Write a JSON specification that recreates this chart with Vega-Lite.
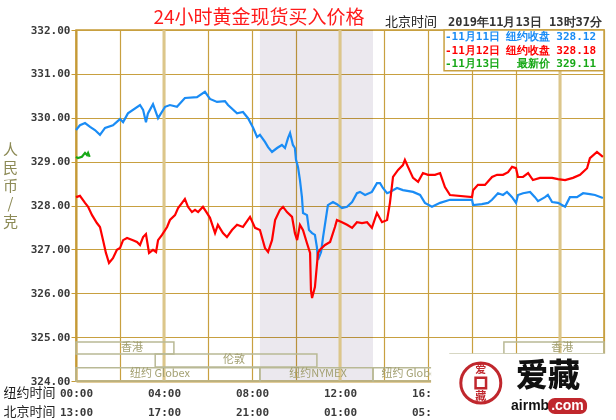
{
 "$schema": "https://vega.github.io/schema/vega-lite/v6.json",
 "width": 528,
 "height": 351,
 "autosize": {"type": "none"},
 "padding": {"left": 76, "top": 30, "right": 12, "bottom": 39},
 "background": "white",
 "config": {"view": {"stroke": "#c59a36", "strokeWidth": 1.5}},
 "data": {"values": [{}]},
 "datasets": {
  "band": [{"session": "COMEX", "start": 8.36, "end": 13.5}],
  "highlight": [{"t": 4}, {"t": 12}, {"t": 22}],
  "sessions": [
   {"name": "香港", "start": 0, "end": 4.45, "lo": 324.615, "hi": 324.89, "lt": 2.55},
   {"name": "香港", "start": 19.45, "end": 24, "lo": 324.615, "hi": 324.89, "lt": 22.1},
   {"name": "伦敦", "start": 3.6, "end": 10.95, "lo": 324.32, "hi": 324.615, "lt": 7.18},
   {"name": "伦敦", "start": 17.0, "end": 24, "lo": 324.32, "hi": 324.615, "lt": null},
   {"name": "纽约 Globex", "start": 0, "end": 8.36, "lo": 324.0, "hi": 324.3, "lt": 3.82},
   {"name": "纽约NYMEX", "start": 8.36, "end": 13.5, "lo": 324.0, "hi": 324.3, "lt": 11.0},
   {"name": "纽约 Globex", "start": 13.5, "end": 24, "lo": 324.0, "hi": 324.3, "lt": 15.25}
  ],
  "prices": [
   {"s":"11月11日","t":0,"p":329.72},{"s":"11月11日","t":0.18,"p":329.83},{"s":"11月11日","t":0.41,"p":329.88},{"s":"11月11日","t":0.64,"p":329.79},{"s":"11月11日","t":0.86,"p":329.72},{"s":"11月11日","t":1.09,"p":329.61},{"s":"11月11日","t":1.32,"p":329.77},{"s":"11月11日","t":1.68,"p":329.83},{"s":"11月11日","t":2.0,"p":329.97},{"s":"11月11日","t":2.14,"p":329.9},{"s":"11月11日","t":2.36,"p":330.1},{"s":"11月11日","t":2.91,"p":330.29},{"s":"11月11日","t":3.05,"p":330.18},{"s":"11月11日","t":3.18,"p":329.9},{"s":"11月11日","t":3.27,"p":330.1},{"s":"11月11日","t":3.5,"p":330.31},{"s":"11月11日","t":3.73,"p":329.99},{"s":"11月11日","t":4.05,"p":330.25},{"s":"11月11日","t":4.27,"p":330.29},{"s":"11月11日","t":4.59,"p":330.25},{"s":"11月11日","t":4.95,"p":330.45},{"s":"11月11日","t":5.5,"p":330.47},{"s":"11月11日","t":5.86,"p":330.59},{"s":"11月11日","t":6.09,"p":330.43},{"s":"11月11日","t":6.41,"p":330.36},{"s":"11月11日","t":6.77,"p":330.38},{"s":"11月11日","t":6.91,"p":330.29},{"s":"11月11日","t":7.32,"p":330.1},{"s":"11月11日","t":7.59,"p":330.13},{"s":"11月11日","t":7.82,"p":329.99},{"s":"11月11日","t":8.05,"p":329.77},{"s":"11月11日","t":8.23,"p":329.56},{"s":"11月11日","t":8.36,"p":329.61},{"s":"11月11日","t":8.59,"p":329.45},{"s":"11月11日","t":8.73,"p":329.33},{"s":"11月11日","t":8.91,"p":329.22},{"s":"11月11日","t":9.14,"p":329.31},{"s":"11月11日","t":9.36,"p":329.38},{"s":"11月11日","t":9.5,"p":329.31},{"s":"11月11日","t":9.64,"p":329.54},{"s":"11月11日","t":9.73,"p":329.65},{"s":"11月11日","t":9.86,"p":329.38},{"s":"11月11日","t":9.95,"p":329.31},{"s":"11月11日","t":10.0,"p":329.04},{"s":"11月11日","t":10.09,"p":328.88},{"s":"11月11日","t":10.18,"p":328.58},{"s":"11月11日","t":10.27,"p":328.19},{"s":"11月11日","t":10.32,"p":327.83},{"s":"11月11日","t":10.5,"p":327.78},{"s":"11月11日","t":10.59,"p":327.44},{"s":"11月11日","t":10.73,"p":327.37},{"s":"11月11日","t":10.86,"p":327.33},{"s":"11月11日","t":10.95,"p":327.05},{"s":"11月11日","t":11.0,"p":326.76},{"s":"11月11日","t":11.14,"p":326.94},{"s":"11月11日","t":11.23,"p":327.28},{"s":"11月11日","t":11.45,"p":328.01},{"s":"11月11日","t":11.68,"p":328.08},{"s":"11月11日","t":11.86,"p":328.03},{"s":"11月11日","t":12.09,"p":327.94},{"s":"11月11日","t":12.32,"p":327.97},{"s":"11月11日","t":12.55,"p":328.08},{"s":"11月11日","t":12.77,"p":328.28},{"s":"11月11日","t":12.91,"p":328.31},{"s":"11月11日","t":13.14,"p":328.24},{"s":"11月11日","t":13.45,"p":328.31},{"s":"11月11日","t":13.68,"p":328.51},{"s":"11月11日","t":13.82,"p":328.51},{"s":"11月11日","t":13.95,"p":328.4},{"s":"11月11日","t":14.14,"p":328.28},{"s":"11月11日","t":14.27,"p":328.31},{"s":"11月11日","t":14.59,"p":328.4},{"s":"11月11日","t":14.86,"p":328.35},{"s":"11月11日","t":15.32,"p":328.31},{"s":"11月11日","t":15.64,"p":328.24},{"s":"11月11日","t":15.86,"p":328.06},{"s":"11月11日","t":16.18,"p":327.97},{"s":"11月11日","t":16.55,"p":328.06},{"s":"11月11日","t":17.0,"p":328.13},{"s":"11月11日","t":18.0,"p":328.13},{"s":"11月11日","t":18.05,"p":328.01},{"s":"11月11日","t":18.45,"p":328.03},{"s":"11月11日","t":18.73,"p":328.06},{"s":"11月11日","t":18.91,"p":328.13},{"s":"11月11日","t":19.18,"p":328.28},{"s":"11月11日","t":19.41,"p":328.24},{"s":"11月11日","t":19.59,"p":328.31},{"s":"11月11日","t":19.82,"p":328.19},{"s":"11月11日","t":20.0,"p":328.06},{"s":"11月11日","t":20.09,"p":328.24},{"s":"11月11日","t":20.32,"p":328.28},{"s":"11月11日","t":20.64,"p":328.31},{"s":"11月11日","t":20.86,"p":328.19},{"s":"11月11日","t":21.0,"p":328.1},{"s":"11月11日","t":21.32,"p":328.19},{"s":"11月11日","t":21.45,"p":328.24},{"s":"11月11日","t":21.64,"p":328.08},{"s":"11月11日","t":21.91,"p":328.06},{"s":"11月11日","t":22.23,"p":327.97},{"s":"11月11日","t":22.45,"p":328.19},{"s":"11月11日","t":22.77,"p":328.19},{"s":"11月11日","t":23.05,"p":328.28},{"s":"11月11日","t":23.36,"p":328.26},{"s":"11月11日","t":23.59,"p":328.24},{"s":"11月11日","t":23.95,"p":328.17},
   {"s":"11月12日","t":0,"p":328.19},{"s":"11月12日","t":0.18,"p":328.22},{"s":"11月12日","t":0.41,"p":328.06},{"s":"11月12日","t":0.55,"p":327.97},{"s":"11月12日","t":0.73,"p":327.78},{"s":"11月12日","t":0.95,"p":327.6},{"s":"11月12日","t":1.09,"p":327.51},{"s":"11月12日","t":1.23,"p":327.21},{"s":"11月12日","t":1.36,"p":326.92},{"s":"11月12日","t":1.5,"p":326.69},{"s":"11月12日","t":1.68,"p":326.8},{"s":"11月12日","t":1.86,"p":326.99},{"s":"11月12日","t":2.0,"p":327.03},{"s":"11月12日","t":2.14,"p":327.21},{"s":"11月12日","t":2.32,"p":327.26},{"s":"11月12日","t":2.59,"p":327.21},{"s":"11月12日","t":2.77,"p":327.17},{"s":"11月12日","t":2.91,"p":327.1},{"s":"11月12日","t":3.05,"p":327.28},{"s":"11月12日","t":3.18,"p":327.35},{"s":"11月12日","t":3.32,"p":326.92},{"s":"11月12日","t":3.5,"p":326.99},{"s":"11月12日","t":3.64,"p":326.94},{"s":"11月12日","t":3.73,"p":327.21},{"s":"11月12日","t":3.91,"p":327.33},{"s":"11月12日","t":4.14,"p":327.51},{"s":"11月12日","t":4.27,"p":327.67},{"s":"11月12日","t":4.5,"p":327.78},{"s":"11月12日","t":4.64,"p":327.94},{"s":"11月12日","t":4.82,"p":328.06},{"s":"11月12日","t":4.95,"p":328.15},{"s":"11月12日","t":5.09,"p":327.97},{"s":"11月12日","t":5.27,"p":327.85},{"s":"11月12日","t":5.41,"p":327.9},{"s":"11月12日","t":5.55,"p":327.85},{"s":"11月12日","t":5.77,"p":327.97},{"s":"11月12日","t":5.95,"p":327.83},{"s":"11月12日","t":6.09,"p":327.72},{"s":"11月12日","t":6.32,"p":327.37},{"s":"11月12日","t":6.45,"p":327.56},{"s":"11月12日","t":6.68,"p":327.37},{"s":"11月12日","t":6.86,"p":327.28},{"s":"11月12日","t":7.09,"p":327.44},{"s":"11月12日","t":7.32,"p":327.56},{"s":"11月12日","t":7.59,"p":327.51},{"s":"11月12日","t":7.91,"p":327.74},{"s":"11月12日","t":8.14,"p":327.49},{"s":"11月12日","t":8.36,"p":327.44},{"s":"11月12日","t":8.59,"p":327.03},{"s":"11月12日","t":8.73,"p":326.94},{"s":"11月12日","t":8.91,"p":327.21},{"s":"11月12日","t":9.05,"p":327.67},{"s":"11月12日","t":9.27,"p":327.9},{"s":"11月12日","t":9.41,"p":327.97},{"s":"11月12日","t":9.59,"p":327.85},{"s":"11月12日","t":9.82,"p":327.74},{"s":"11月12日","t":9.95,"p":327.37},{"s":"11月12日","t":10.05,"p":327.21},{"s":"11月12日","t":10.18,"p":327.56},{"s":"11月12日","t":10.32,"p":327.44},{"s":"11月12日","t":10.5,"p":327.14},{"s":"11月12日","t":10.64,"p":326.92},{"s":"11月12日","t":10.68,"p":326.07},{"s":"11月12日","t":10.73,"p":325.89},{"s":"11月12日","t":10.86,"p":326.14},{"s":"11月12日","t":11.0,"p":326.92},{"s":"11月12日","t":11.09,"p":326.99},{"s":"11月12日","t":11.32,"p":327.1},{"s":"11月12日","t":11.55,"p":327.17},{"s":"11月12日","t":11.77,"p":327.51},{"s":"11月12日","t":11.86,"p":327.67},{"s":"11月12日","t":12.09,"p":327.62},{"s":"11月12日","t":12.32,"p":327.56},{"s":"11月12日","t":12.55,"p":327.49},{"s":"11月12日","t":12.77,"p":327.62},{"s":"11月12日","t":13.0,"p":327.6},{"s":"11月12日","t":13.23,"p":327.62},{"s":"11月12日","t":13.45,"p":327.49},{"s":"11月12日","t":13.68,"p":327.83},{"s":"11月12日","t":13.91,"p":327.62},{"s":"11月12日","t":14.14,"p":327.67},{"s":"11月12日","t":14.27,"p":328.06},{"s":"11月12日","t":14.41,"p":328.65},{"s":"11月12日","t":14.64,"p":328.81},{"s":"11月12日","t":14.86,"p":328.92},{"s":"11月12日","t":14.95,"p":329.04},{"s":"11月12日","t":15.09,"p":328.88},{"s":"11月12日","t":15.32,"p":328.63},{"s":"11月12日","t":15.55,"p":328.54},{"s":"11月12日","t":15.77,"p":328.74},{"s":"11月12日","t":16.0,"p":328.7},{"s":"11月12日","t":16.32,"p":328.7},{"s":"11月12日","t":16.55,"p":328.74},{"s":"11月12日","t":16.77,"p":328.42},{"s":"11月12日","t":17.0,"p":328.24},{"s":"11月12日","t":18.0,"p":328.19},{"s":"11月12日","t":18.05,"p":328.35},{"s":"11月12日","t":18.27,"p":328.47},{"s":"11月12日","t":18.59,"p":328.47},{"s":"11月12日","t":18.91,"p":328.65},{"s":"11月12日","t":19.14,"p":328.7},{"s":"11月12日","t":19.41,"p":328.7},{"s":"11月12日","t":19.64,"p":328.76},{"s":"11月12日","t":19.82,"p":328.88},{"s":"11月12日","t":20.0,"p":328.85},{"s":"11月12日","t":20.09,"p":328.65},{"s":"11月12日","t":20.32,"p":328.65},{"s":"11月12日","t":20.55,"p":328.74},{"s":"11月12日","t":20.77,"p":328.58},{"s":"11月12日","t":21.09,"p":328.63},{"s":"11月12日","t":21.32,"p":328.63},{"s":"11月12日","t":21.64,"p":328.63},{"s":"11月12日","t":21.91,"p":328.6},{"s":"11月12日","t":22.23,"p":328.58},{"s":"11月12日","t":22.59,"p":328.63},{"s":"11月12日","t":22.91,"p":328.7},{"s":"11月12日","t":23.23,"p":328.85},{"s":"11月12日","t":23.36,"p":329.08},{"s":"11月12日","t":23.68,"p":329.22},{"s":"11月12日","t":23.95,"p":329.11},
   {"s":"11月13日","t":0,"p":329.11},{"s":"11月13日","t":0.09,"p":329.08},{"s":"11月13日","t":0.27,"p":329.11},{"s":"11月13日","t":0.41,"p":329.2},{"s":"11月13日","t":0.5,"p":329.15},{"s":"11月13日","t":0.55,"p":329.2},{"s":"11月13日","t":0.62,"p":329.11}
  ]
 },
 "layer": [
  {
   "data": {"name": "band"},
   "mark": {"type": "rect", "fill": "#ebe8ee", "blend": "multiply"},
   "encoding": {
    "x": {"field": "start", "type": "quantitative", "scale": {"domain": [0, 24], "nice": false, "zero": false}},
    "x2": {"field": "end"},
    "y": {"datum": 324, "type": "quantitative", "scale": {"domain": [324, 332], "nice": false, "zero": false}},
    "y2": {"datum": 332}
   }
  },
  {
   "data": {"name": "highlight"},
   "mark": {"type": "rule", "color": "#dcc68a", "strokeWidth": 3},
   "encoding": {"x": {"field": "t", "type": "quantitative"}, "y": {"datum": 324, "type": "quantitative"}, "y2": {"datum": 332}}
  },
  {
   "data": {"name": "sessions"},
   "mark": {"type": "rect", "fillOpacity": 0, "stroke": "#b9b995", "strokeWidth": 1.5},
   "encoding": {"x": {"field": "start", "type": "quantitative"}, "x2": {"field": "end"}, "y": {"field": "lo", "type": "quantitative"}, "y2": {"field": "hi"}}
  },
  {
   "data": {"name": "sessions"},
   "transform": [{"filter": "datum.lt != null"}, {"calculate": "(datum.lo + datum.hi) / 2", "as": "ym"}],
   "mark": {"type": "text", "color": "#a3a072", "fontSize": 11, "font": "Noto Sans CJK SC", "baseline": "middle"},
   "encoding": {"x": {"field": "lt", "type": "quantitative"}, "y": {"field": "ym", "type": "quantitative"}, "text": {"field": "name"}}
  },
  {
   "data": {"name": "prices"},
   "mark": {"type": "line", "strokeWidth": 2.2},
   "encoding": {
    "x": {"field": "t", "type": "quantitative", "scale": {"domain": [0, 24], "nice": false, "zero": false},
     "axis": {"values": [0,2,4,6,8,10,12,14,16,18,20,22,24],
      "labelExpr": "(datum.value % 4 == 0 && datum.value <= 16) ? [(datum.value < 10 ? '0' : '') + datum.value + ':00', (((datum.value + 13) % 24) < 10 ? '0' : '') + ((datum.value + 13) % 24) + ':00'] : ''",
      "title": ["纽约时间", "北京时间"], "titleX": -73, "titleY": 5, "titleAlign": "left", "titleBaseline": "top", "titleAngle": 0, "titleLineHeight": 19, "titleFontSize": 13, "titleFont": "Noto Sans CJK SC", "titleFontWeight": "normal", "titleColor": "#222222",
      "labelFont": "DejaVu Sans Mono", "labelFontWeight": "bold", "labelFontSize": 11, "labelColor": "#3a3a3a", "labelLineHeight": 19, "labelBaseline": "top", "labelPadding": 6, "labelAlign": "center",
      "ticks": false, "tickSize": 0, "labelOverlap": false, "labelBound": false, "labelFlush": false,
      "grid": true, "gridColor": "#c8a040", "gridWidth": 1.2, "domainColor": "#c59a36", "domainWidth": 2}},
    "y": {"field": "p", "type": "quantitative", "scale": {"domain": [324, 332], "nice": false, "zero": false},
     "axis": {"values": [324,325,326,327,328,329,330,331,332], "format": ".2f",
      "title": ["人", "民", "币", "/", "克"], "titleAngle": 0, "titleX": -66, "titleY": 112, "titleAlign": "center", "titleBaseline": "top", "titleLineHeight": 18, "titleFontSize": 15, "titleFont": "Noto Sans CJK SC", "titleFontWeight": "normal", "titleColor": "#8c8a55",
      "labelFont": "DejaVu Sans Mono", "labelFontWeight": "bold", "labelFontSize": 11, "labelColor": "#3a3a3a", "labelPadding": 1,
      "tickSize": 5, "tickColor": "#c59a36", "grid": true, "gridColor": "#c8a040", "gridWidth": 1.2, "domainColor": "#c59a36", "domainWidth": 2}},
    "color": {"field": "s", "type": "nominal", "scale": {"domain": ["11月11日", "11月12日", "11月13日"], "range": ["#1a8cf5", "#ff0000", "#17a817"]}, "legend": null}
   }
  },
  {
   "mark": {"type": "rect", "fill": "white", "stroke": "#c8a040", "strokeWidth": 1.5},
   "encoding": {"x": {"datum": 16.73, "type": "quantitative"}, "x2": {"datum": 24}, "y": {"datum": 331.07, "type": "quantitative"}, "y2": {"datum": 332}}
  },
  {
   "data": {"values": [{"s": "11月11日", "d": "-11月11日", "n": "纽约收盘 328.12"}]},
   "layer": [
    {"mark": {"type": "text", "align": "left", "baseline": "middle", "font": "DejaVu Sans Mono", "fontWeight": "bold", "fontSize": 11},
     "encoding": {"x": {"datum": 16.77, "type": "quantitative"}, "y": {"datum": 331.84, "type": "quantitative"}, "text": {"field": "d"}, "color": {"field": "s", "type": "nominal", "legend": null}}},
    {"mark": {"type": "text", "align": "right", "baseline": "middle", "font": "DejaVu Sans Mono", "fontWeight": "bold", "fontSize": 11},
     "encoding": {"x": {"datum": 23.64, "type": "quantitative"}, "y": {"datum": 331.84, "type": "quantitative"}, "text": {"field": "n"}, "color": {"field": "s", "type": "nominal", "legend": null}}}
   ]
  },
  {
   "data": {"values": [{"s": "11月12日", "d": "-11月12日", "n": "纽约收盘 328.18"}]},
   "layer": [
    {"mark": {"type": "text", "align": "left", "baseline": "middle", "font": "DejaVu Sans Mono", "fontWeight": "bold", "fontSize": 11},
     "encoding": {"x": {"datum": 16.77, "type": "quantitative"}, "y": {"datum": 331.52, "type": "quantitative"}, "text": {"field": "d"}, "color": {"field": "s", "type": "nominal", "legend": null}}},
    {"mark": {"type": "text", "align": "right", "baseline": "middle", "font": "DejaVu Sans Mono", "fontWeight": "bold", "fontSize": 11},
     "encoding": {"x": {"datum": 23.64, "type": "quantitative"}, "y": {"datum": 331.52, "type": "quantitative"}, "text": {"field": "n"}, "color": {"field": "s", "type": "nominal", "legend": null}}}
   ]
  },
  {
   "data": {"values": [{"s": "11月13日", "d": "-11月13日", "n": "最新价 329.11"}]},
   "layer": [
    {"mark": {"type": "text", "align": "left", "baseline": "middle", "font": "DejaVu Sans Mono", "fontWeight": "bold", "fontSize": 11},
     "encoding": {"x": {"datum": 16.77, "type": "quantitative"}, "y": {"datum": 331.23, "type": "quantitative"}, "text": {"field": "d"}, "color": {"field": "s", "type": "nominal", "legend": null}}},
    {"mark": {"type": "text", "align": "right", "baseline": "middle", "font": "DejaVu Sans Mono", "fontWeight": "bold", "fontSize": 11},
     "encoding": {"x": {"datum": 23.64, "type": "quantitative"}, "y": {"datum": 331.23, "type": "quantitative"}, "text": {"field": "n"}, "color": {"field": "s", "type": "nominal", "legend": null}}}
   ]
  },
  {
   "mark": {"type": "text", "font": "Noto Sans CJK SC", "fontSize": 19, "color": "#ff1a1a", "baseline": "middle"},
   "encoding": {"x": {"datum": 8.32, "type": "quantitative"}, "y": {"datum": 332.27, "type": "quantitative"}, "text": {"value": "24小时黄金现货买入价格"}}
  },
  {
   "mark": {"type": "text", "font": "Noto Sans CJK SC", "fontSize": 13, "color": "#222222", "baseline": "middle"},
   "encoding": {"x": {"datum": 15.23, "type": "quantitative"}, "y": {"datum": 332.18, "type": "quantitative"}, "text": {"value": "北京时间"}}
  },
  {
   "mark": {"type": "text", "font": "DejaVu Sans Mono", "fontWeight": "bold", "fontSize": 12, "color": "#333333", "baseline": "middle"},
   "encoding": {"x": {"datum": 20.41, "type": "quantitative"}, "y": {"datum": 332.18, "type": "quantitative"}, "text": {"value": "2019年11月13日 13时37分"}}
  },
  {
   "mark": {"type": "rect", "fill": "white"},
   "encoding": {"x": {"datum": 16.14, "type": "quantitative"}, "x2": {"datum": 24.6}, "y": {"datum": 324.62, "type": "quantitative"}, "y2": {"datum": 323.0}}
  },
  {
   "mark": {"type": "point", "shape": "circle", "fill": "white", "stroke": "#c0272d", "strokeWidth": 3, "size": 1600, "opacity": 1},
   "encoding": {"x": {"datum": 18.4, "type": "quantitative"}, "y": {"datum": 323.955, "type": "quantitative"}}
  },
  {
   "mark": {"type": "point", "shape": "square", "fill": "white", "stroke": "#c0272d", "strokeWidth": 2.5, "size": 110, "opacity": 1},
   "encoding": {"x": {"datum": 18.4, "type": "quantitative"}, "y": {"datum": 323.955, "type": "quantitative"}}
  },
  {
   "mark": {"type": "text", "font": "Noto Sans CJK SC", "fontWeight": "bold", "fontSize": 11, "color": "#c0272d", "baseline": "middle"},
   "encoding": {"x": {"datum": 18.4, "type": "quantitative"}, "y": {"datum": 324.25, "type": "quantitative"}, "text": {"value": "爱"}}
  },
  {
   "mark": {"type": "text", "font": "Noto Sans CJK SC", "fontWeight": "bold", "fontSize": 11, "color": "#c0272d", "baseline": "middle"},
   "encoding": {"x": {"datum": 18.4, "type": "quantitative"}, "y": {"datum": 323.64, "type": "quantitative"}, "text": {"value": "藏"}}
  },
  {
   "mark": {"type": "text", "font": "Noto Sans CJK SC", "fontWeight": 900, "fontSize": 32, "color": "#111111", "baseline": "middle"},
   "encoding": {"x": {"datum": 21.45, "type": "quantitative"}, "y": {"datum": 324.11, "type": "quantitative"}, "text": {"value": "爱藏"}}
  },
  {
   "mark": {"type": "text", "font": "Liberation Sans", "fontWeight": "bold", "fontSize": 14, "color": "#111111", "baseline": "middle"},
   "encoding": {"x": {"datum": 20.64, "type": "quantitative"}, "y": {"datum": 323.43, "type": "quantitative"}, "text": {"value": "airmb"}}
  },
  {
   "mark": {"type": "rect", "fill": "#c0272d", "cornerRadius": 7},
   "encoding": {"x": {"datum": 21.45, "type": "quantitative"}, "x2": {"datum": 23.23}, "y": {"datum": 323.25, "type": "quantitative"}, "y2": {"datum": 323.61}}
  },
  {
   "mark": {"type": "text", "font": "Liberation Sans", "fontWeight": "bold", "fontSize": 14, "color": "white", "baseline": "middle"},
   "encoding": {"x": {"datum": 22.34, "type": "quantitative"}, "y": {"datum": 323.43, "type": "quantitative"}, "text": {"value": ".com"}}
  }
 ]
}
